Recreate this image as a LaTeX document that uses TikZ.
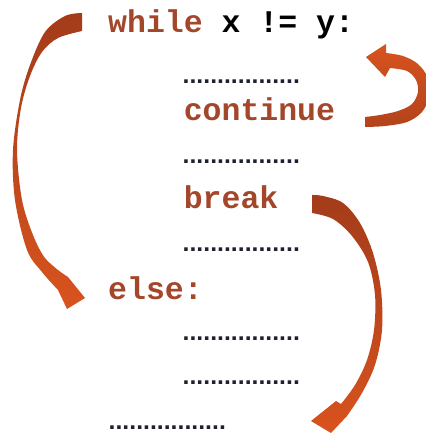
\documentclass[tikz,border=0pt]{standalone}
\usepackage{fontspec}
\newfontfamily\codefont{Liberation Mono}
\newfontfamily\dotfont{Liberation Sans}
\definecolor{kw}{HTML}{A3462A}
\definecolor{dotc}{HTML}{1E2230}
\definecolor{arrdark}{HTML}{A33C1A}
\definecolor{arrlight}{HTML}{D8531E}
\begin{document}
\begin{tikzpicture}[x=1pt,y=-1pt,
  code/.style={anchor=base west, inner sep=0pt, font=\codefont\bfseries\fontsize{31.5}{36}\selectfont, text=kw},
  dotrow/.style={anchor=base west, inner sep=0pt, font=\dotfont\bfseries\fontsize{24.8}{28}\selectfont, text=dotc},
  bigarrow/.style={top color=arrdark, bottom color=arrlight, draw=none},
  contarrow/.style={top color=arrlight, bottom color=arrdark!70!arrlight, draw=none}]
\useasboundingbox (0,0) rectangle (426,437);
\clip (0,0) rectangle (426,437);
% code lines
\node[code] (w) at (108,32) {while \textcolor{black}{x != y:}};
\node[dotrow] (d1) at (182.5,83.5) {.................};
\node[code] (c) at (183.6,120) {continue};
\node[dotrow] (d2) at (182.5,163.5) {.................};
\node[code] (b) at (183.6,208) {break};
\node[dotrow] (d3) at (182.5,251.5) {.................};
\node[code] (e) at (108,299) {else:};
\node[dotrow] (d4) at (182.5,340.5) {.................};
\node[dotrow] (d5) at (182.5,384.5) {.................};
\node[dotrow] (d6) at (108.5,429.5) {.................};
% left arrow: while -> else
\shade[bigarrow] plot[smooth, tension=0.55] coordinates {(82,13) (65,16) (45,32) (30,65) (20,100) (13,150) (15,200) (27,250) (42,272) (58,290)}
  -- (67,309) -- (85,298) -- (68,277)
  -- plot[smooth, tension=0.55] coordinates {(62,273) (45,258) (33,235) (22,200) (17,150) (21,108) (30,76) (42,52) (58,38) (82,31)} -- cycle;
% continue arrow
\shade[contarrow] plot[smooth, tension=0.55] coordinates {(365,127) (385,126) (407,122) (422,112) (430,95) (428,78) (418,64) (403,56) (386,53)}
  -- (386,44) -- (366,57) -- (385,77)
  -- plot[smooth, tension=0.55] coordinates {(390,68) (407,71) (416,80) (418,92) (412,104) (398,111) (380,115) (365,117)} -- cycle;
% break arrow
\shade[bigarrow] plot[smooth, tension=0.55] coordinates {(312,195) (323,196) (343,203) (360,223) (373,253) (381,290) (382,330) (375,365) (362,393) (347,416)}
  -- (331,433) -- (311,421) -- (336,401)
  -- plot[smooth, tension=0.55] coordinates {(341,404) (355,385) (367,360) (374,330) (375,295) (368,262) (352,236) (333,219) (312,213)} -- cycle;
\end{tikzpicture}
\end{document}
